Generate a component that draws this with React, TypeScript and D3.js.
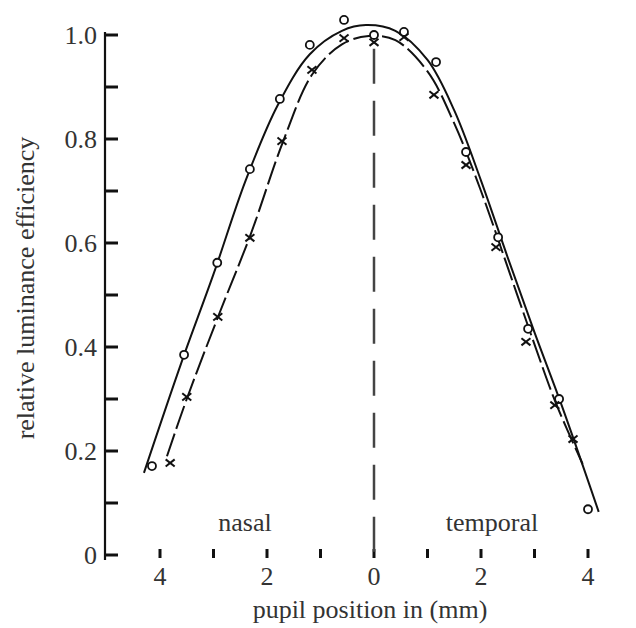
import React from "react";
import * as d3 from "d3";

// observed points: circles (o)
const circleX = [-4.15, -3.55, -2.93, -2.32, -1.76, -1.2, -0.56, 0, 0.56, 1.16, 1.72, 2.32, 2.88, 3.46, 4.0];
const circleY = [0.171, 0.385, 0.562, 0.742, 0.877, 0.981, 1.029, 1.0, 1.006, 0.948, 0.775, 0.611, 0.435, 0.3, 0.088];
// observed points: crosses (x)
const crossX = [-3.81, -3.5, -2.92, -2.32, -1.72, -1.16, -0.56, 0, 0.56, 1.12, 1.72, 2.28, 2.84, 3.38, 3.72];
const crossY = [0.177, 0.304, 0.458, 0.61, 0.796, 0.933, 0.994, 0.986, 0.996, 0.885, 0.75, 0.592, 0.41, 0.288, 0.223];
// fitted curve (solid, through circles)
const solidFitX = [-4.3, -3.6, -3.0, -2.4, -1.8, -1.2, -0.6, -0.15, 0.4, 1.0, 1.5, 2.0, 2.5, 3.0, 3.5, 4.2];
const solidFitY = [0.158, 0.37, 0.54, 0.72, 0.865, 0.963, 1.008, 1.019, 1.008, 0.952, 0.855, 0.72, 0.572, 0.428, 0.29, 0.083];
// fitted curve (dashed, through crosses)
const dashFitX = [-3.87, -3.5, -2.9, -2.3, -1.7, -1.15, -0.6, -0.1, 0.4, 1.0, 1.5, 2.0, 2.5, 3.0, 3.4, 3.9];
const dashFitY = [0.19, 0.3, 0.462, 0.618, 0.795, 0.925, 0.982, 0.998, 0.99, 0.93, 0.83, 0.7, 0.553, 0.405, 0.292, 0.175];

const yMajorTicks = [0, 0.2, 0.4, 0.6, 0.8, 1.0];
const yMajorLabels = ["0", "0.2", "0.4", "0.6", "0.8", "1.0"];
const yMinorTicks = [0.1, 0.3, 0.5, 0.7, 0.9];
const xTicks = [-4, -3, -2, -1, 0, 1, 2, 3, 4];
const xLabelTicks = [-4, -2, 0, 2, 4];

export default function App() {
  const W = 636, H = 628;
  const x = d3.scaleLinear().domain([-4, 4]).range([160, 588]);
  const y = d3.scaleLinear().domain([0, 1]).range([555, 35]);
  const line = d3
    .line<[number, number]>()
    .x((d) => x(d[0]))
    .y((d) => y(d[1]))
    .curve(d3.curveCatmullRom.alpha(0.5));
  const solidPts = solidFitX.map((v, i) => [v, solidFitY[i]] as [number, number]);
  const dashPts = dashFitX.map((v, i) => [v, dashFitY[i]] as [number, number]);
  const font = "'Liberation Serif', 'DejaVu Serif', serif";
  const axX = 105;
  const textCol = "#333";
  const fs = 26;

  return (
    <svg width={W} height={H} style={{ position: "absolute", left: 0, top: 0, background: "#fff", fontFamily: font }}>
      <rect width={W} height={H} fill="#fff" />
      {/* y axis */}
      <line x1={axX} x2={axX} y1={y(1) - 3} y2={y(0) + 5} stroke="#111" strokeWidth={2.2} />
      {yMajorTicks.concat(yMinorTicks).map((t) => (
        <line key={"yt" + t} x1={axX} x2={axX + 13} y1={y(t)} y2={y(t)} stroke="#111" strokeWidth={3} />
      ))}
      {yMajorTicks.map((t, i) => (
        <text key={"yl" + t} x={axX - 8} y={y(t)} dy="0.35em" textAnchor="end" fontSize={fs} fill={textCol}>
          {yMajorLabels[i]}
        </text>
      ))}
      <text
        transform={`translate(25, 288) rotate(-90)`}
        textAnchor="middle"
        dy="0.35em"
        fontSize={fs}
        fill={textCol}
      >
        relative luminance efficiency
      </text>
      {/* x ticks */}
      {xTicks.map((t) => (
        <line key={"xt" + t} x1={x(t)} x2={x(t)} y1={549} y2={558} stroke="#111" strokeWidth={3} />
      ))}
      {xLabelTicks.map((t) => (
        <text key={"xl" + t} x={x(t)} y={585} textAnchor="middle" fontSize={fs} fill={textCol}>
          {Math.abs(t)}
        </text>
      ))}
      <text x={370} y={618} textAnchor="middle" fontSize={fs} fill={textCol}>
        pupil position in (mm)
      </text>
      <text x={245} y={531} textAnchor="middle" fontSize={fs} fill={textCol}>
        nasal
      </text>
      <text x={492} y={531} textAnchor="middle" fontSize={fs} fill={textCol}>
        temporal
      </text>
      {/* center dashed line */}
      <line x1={x(0)} x2={x(0)} y1={y(0.985) + 6} y2={558} stroke="#444" strokeWidth={2.5} strokeDasharray="35 17" />
      {/* curves */}
      <path d={line(solidPts) || ""} fill="none" stroke="#111" strokeWidth={2} />
      <path d={line(dashPts) || ""} fill="none" stroke="#111" strokeWidth={2} strokeDasharray="24 5" />
      {/* markers */}
      {circleX.map((v, i) => (
        <circle key={"c" + i} cx={x(v)} cy={y(circleY[i])} r={4} fill="#fff" stroke="#111" strokeWidth={1.8} />
      ))}
      {crossX.map((v, i) => {
        const cx = x(v), cy = y(crossY[i]), s = 4.5;
        return (
          <g key={"x" + i} stroke="#111" strokeWidth={2}>
            <line x1={cx - s} y1={cy - s * 0.8} x2={cx + s} y2={cy + s * 0.8} />
            <line x1={cx - s} y1={cy + s * 0.8} x2={cx + s} y2={cy - s * 0.8} />
          </g>
        );
      })}
    </svg>
  );
}
